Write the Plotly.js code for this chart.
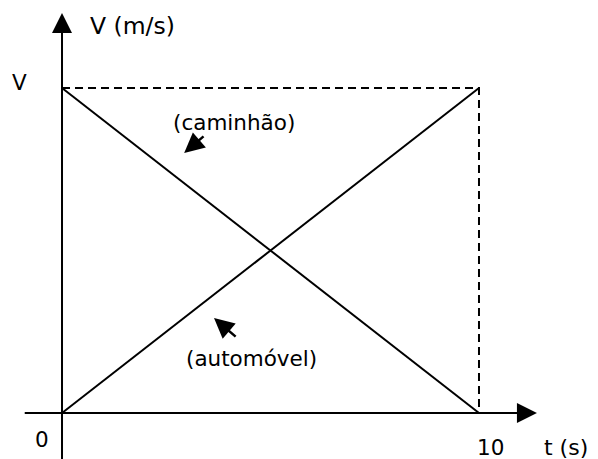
<!DOCTYPE html>
<html>
<head>
<meta charset="utf-8">
<script src="https://cdn.plot.ly/plotly-3.0.1.min.js"></script>
<style>
html,body{margin:0;padding:0;background:#fff}
#chart{width:598px;height:459px}
</style>
</head>
<body>
<div id="chart"></div>
<script>
// Data (V normalised to 1)
const V = 1;
const T_END = 10;
const time = [0, T_END];
const caminhao = [V, 0];
const automovel = [0, V];
const xTickLabels = ["0", "10"];
const yTickLabel = "V";
const xAxisLabel = "t (s)";
const yAxisLabel = "V (m/s)";
const labelCaminhao = "(caminhão)";
const labelAutomovel = "(automóvel)";

const FAMILY = "DejaVu Sans, Verdana, sans-serif";
const FONT = {family: FAMILY, size: 21.5, color: "#000"};
const TITLE_FONT = {family: FAMILY, size: 23.5, color: "#000"};
const XTITLE_FONT = {family: FAMILY, size: 22, color: "#000"};

const traces = [
  {x: time, y: caminhao, mode: "lines", line: {color: "#000", width: 2}, hoverinfo: "skip"},
  {x: time, y: automovel, mode: "lines", line: {color: "#000", width: 2}, hoverinfo: "skip"},
  {x: [0, T_END, T_END], y: [V, V, 0], mode: "lines", line: {color: "#000", width: 2, dash: "8px,5px"}, hoverinfo: "skip"}
];

function arrow(x, y, ax, ay, size, w) {
  return {x: x, y: y, ax: ax, ay: ay, xref: "x", yref: "y", axref: "x", ayref: "y",
    showarrow: true, arrowhead: 2, arrowsize: size, arrowwidth: w || 2, arrowcolor: "#000",
    standoff: 0, startstandoff: 0, text: ""};
}
function label(text, x, y, font) {
  return {x: x, y: y, xref: "x", yref: "y", text: text, showarrow: false,
    xanchor: "left", yanchor: "middle", font: font || FONT, borderpad: 0};
}

const annotations = [
  // axes with arrowheads
  arrow(11.39, 0, -0.93, 0, 2.0),
  arrow(0, 1.231, 0, -0.16, 2.0),
  // pointers
  arrow(2.93, 0.80, 3.43, 0.855, 1.6, 2.5),
  arrow(3.645, 0.292, 4.20, 0.231, 1.6, 2.5),
  // texts
  label(yAxisLabel, 0.65, 1.191, TITLE_FONT),
  label(yTickLabel, -1.22, 1.017),
  label(xTickLabels[0], -0.67, -0.083),
  label(xTickLabels[1], 9.93, -0.1046),
  label(xAxisLabel, 11.54, -0.1046, XTITLE_FONT),
  label(labelCaminhao, 2.64, 0.894),
  label(labelAutomovel, 2.95, 0.169)
];

const layout = {
  width: 598, height: 459,
  margin: {l: 0, r: 0, t: 0, b: 0},
  paper_bgcolor: "#fff", plot_bgcolor: "#fff",
  showlegend: false,
  xaxis: {range: [-1.487, 12.854], visible: false, fixedrange: true},
  yaxis: {range: [-0.1415, 1.2708], visible: false, fixedrange: true},
  annotations: annotations
};

Plotly.newPlot("chart", traces, layout, {staticPlot: true, displayModeBar: false});
</script>
</body>
</html>
